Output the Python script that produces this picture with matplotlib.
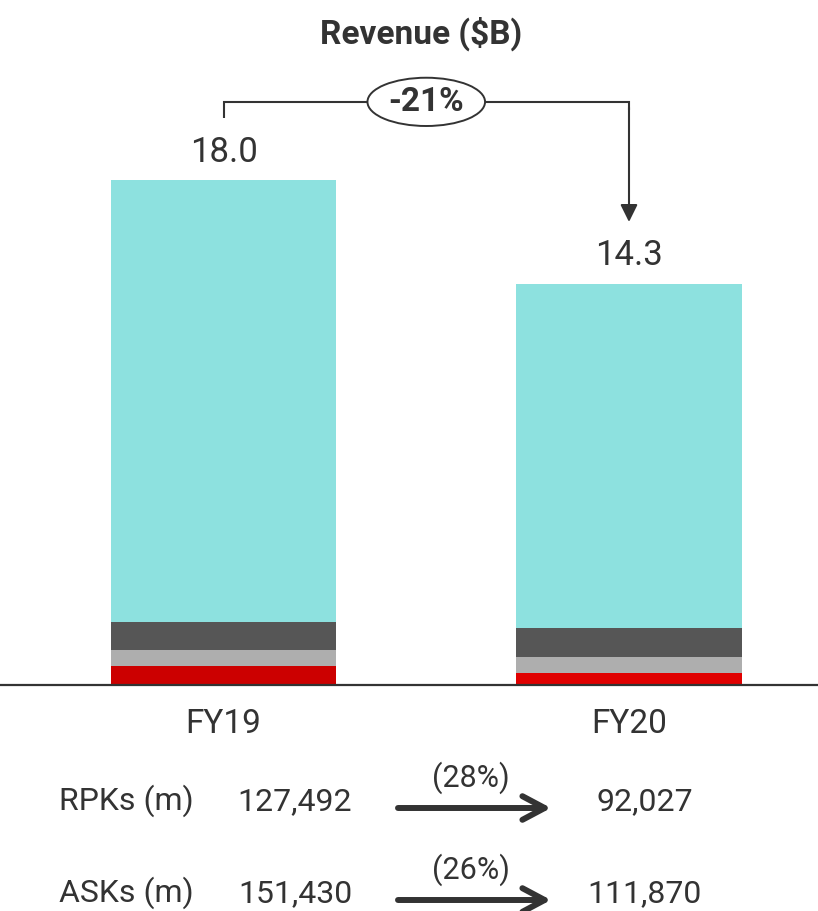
import matplotlib
matplotlib.use("Agg")
import matplotlib.pyplot as plt
from matplotlib.patches import Ellipse, FancyArrowPatch
from matplotlib.transforms import blended_transform_factory

# ---- data -------------------------------------------------------------
years = ["FY19", "FY20"]
seg_red = [0.68, 0.43]
seg_lightgray = [0.57, 0.57]
seg_darkgray = [1.00, 1.03]
seg_cyan = [15.75, 12.27]

metric_names = ["RPKs (m)", "ASKs (m)"]
metric_fy19 = [127492, 151430]
metric_fy20 = [92027, 111870]

# ---- style ------------------------------------------------------------
W, H = 818, 911
TEXT = "#333333"
plt.rcParams["font.family"] = ["Roboto", "DejaVu Sans"]

fig = plt.figure(figsize=(W / 100, H / 100), dpi=100)
base_px = 685          # baseline position (pixels from top)
ax = fig.add_axes([0, (H - base_px) / H, 1, base_px / H])

centers = [0, 1]
bar_w = 0.555
ax.set_xlim(-0.5512, 1.4661)
ax.set_ylim(0, 24.41)

red_cols = ["#CC0000", "#E00000"]
bottom = [0.0, 0.0]
for vals, col in [(seg_red, red_cols), (seg_lightgray, "#AEAEAE"),
                  (seg_darkgray, "#565656"), (seg_cyan, "#8DE1DF")]:
    ax.bar(centers, vals, width=bar_w, bottom=bottom, color=col,
           linewidth=0, zorder=2)
    bottom = [b + v for b, v in zip(bottom, vals)]
totals = bottom

for s in ["top", "left", "right"]:
    ax.spines[s].set_visible(False)
ax.spines["bottom"].set_color(TEXT)
ax.spines["bottom"].set_linewidth(1.6)
ax.spines["bottom"].set_zorder(3)
ax.set_xticks([])
ax.set_yticks([])

# totals above bars
for x, t in zip(centers, totals):
    ax.text(x, t + 0.65, f"{t:.1f}", ha="center", va="baseline",
            fontsize=25, color=TEXT)

# change connector with ellipse badge
y_top = max(totals) + 2.78
ax.plot([centers[0], centers[0], centers[1], centers[1]],
        [totals[0] + 2.2, y_top, y_top, y_top - 0.3],
        color=TEXT, lw=1.5, solid_capstyle="butt", solid_joinstyle="miter",
        zorder=3)
ax.add_patch(FancyArrowPatch((centers[1], y_top - 0.2), (centers[1], totals[1] + 2.2),
                             arrowstyle="-|>,head_length=1.05,head_width=0.52",
                             mutation_scale=10, color=TEXT, lw=1.5,
                             shrinkA=0, shrinkB=0, zorder=3))
mid = (centers[0] + centers[1]) / 2
ax.add_patch(Ellipse((mid, y_top), 0.29, 1.72, facecolor="white",
                     edgecolor=TEXT, lw=1.4, zorder=4))
rev_change = totals[1] / totals[0] - 1
ax.text(mid, y_top - 0.02, f"{rev_change * 100:.0f}%", ha="center", va="center",
        fontsize=24, fontweight="bold", color=TEXT, zorder=5)

# title
fig.text(421 / W, 1 - 44 / H, "Revenue ($B)", ha="center", va="baseline",
         fontsize=24, fontweight="bold", color=TEXT)

# category labels under the baseline
bt = blended_transform_factory(ax.transData, fig.transFigure)
for x, lab in zip(centers, years):
    ax.text(x, 1 - 733 / H, lab, transform=bt, ha="center", va="baseline",
            fontsize=24, color=TEXT, clip_on=False)

# operating metrics rows
row_base = [810, 902]
for name, a, b, yb in zip(metric_names, metric_fy19, metric_fy20, row_base):
    fy = 1 - yb / H
    fig.text(126 / W, fy, name, ha="center", va="baseline", fontsize=23, color=TEXT)
    fig.text(295 / W, fy, f"{a:,}", ha="center", va="baseline", fontsize=23, color=TEXT)
    fig.text(645 / W, fy, f"{b:,}", ha="center", va="baseline", fontsize=23, color=TEXT)
    pct = (1 - b / a) * 100
    fig.text(471 / W, 1 - (yb - 23) / H, f"({pct:.0f}%)", ha="center",
             va="baseline", fontsize=22, color=TEXT)
    ya = 1 - (yb - 2) / H
    fig.add_artist(FancyArrowPatch((398 / W, ya), (551 / W, ya),
                                   transform=fig.transFigure,
                                   arrowstyle="->,head_length=1.6,head_width=0.85",
                                   mutation_scale=10, color=TEXT, lw=4.3,
                                   shrinkA=0, shrinkB=0, capstyle="round",
                                   joinstyle="round"))

fig.savefig("out.png", dpi=100, facecolor="white")
